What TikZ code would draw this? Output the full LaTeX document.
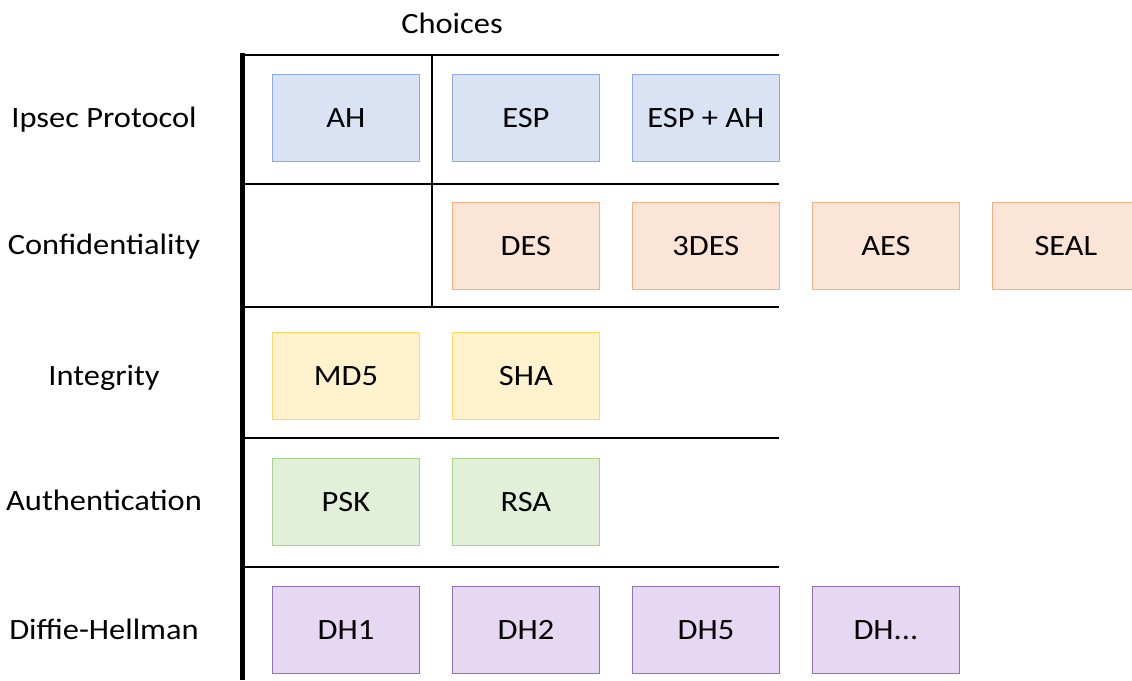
\documentclass[tikz,border=0pt]{standalone}
\usepackage{fontspec}
\setmainfont[FakeStretch=1.1]{Carlito}
\begin{document}
\begin{tikzpicture}[x=1pt,y=-1pt,
  txt/.style={font=\fontsize{29.5}{35}\selectfont, inner sep=0pt},
  rowlabel/.style={txt, anchor=base},
  choice/.style={txt, draw, line width=0.8pt, minimum width=147pt, minimum height=87pt,
                 text height=19pt, text depth=0pt, anchor=north west},
  ipsec/.style={choice, fill=ipfill, draw=ipdraw},
  conf/.style={choice, fill=cffill, draw=cfdraw},
  integ/.style={choice, fill=infill, draw=indraw},
  auth/.style={choice, fill=aufill, draw=audraw},
  dh/.style={choice, fill=dhfill, draw=dhdraw},
  grid/.style={line width=2.6pt, black},
  axis/.style={line width=5pt, black}]
\definecolor{ipfill}{HTML}{DAE3F3}\definecolor{ipdraw}{HTML}{8FAADC}
\definecolor{cffill}{HTML}{FBE5D6}\definecolor{cfdraw}{HTML}{F4B183}
\definecolor{infill}{HTML}{FFF2CC}\definecolor{indraw}{HTML}{FFD966}
\definecolor{aufill}{HTML}{E2F0D9}\definecolor{audraw}{HTML}{A9D18E}
\definecolor{dhfill}{HTML}{E6D8F2}\definecolor{dhdraw}{HTML}{9673B0}
\useasboundingbox (0,0) rectangle (1132,680);

% header
\node[rowlabel] (choices) at (452,33) {Choices};

% row labels
\node[rowlabel] (lipsec) at (104,127) {Ipsec Protocol};
\node[rowlabel] (lconf)  at (104,254.5) {Confidentiality};
\node[rowlabel] (linteg) at (104,385) {Integrity};
\node[rowlabel] (lauth)  at (104,510.5) {Authentication};
\node[rowlabel] (ldh)    at (104,639.5) {Diffie-Hellman};

% grid lines
\coordinate (gtop) at (242,53);
\coordinate (gbot) at (242,680);
\draw[axis] (gtop) -- (gbot);
\draw[grid] (432,55) -- (432,307);
\foreach \yy in {55,184,307,438,567}
  \draw[grid] (240,\yy) -- (779,\yy);

% choice boxes
\node[ipsec] (ah)    at (272,74) {AH};
\node[ipsec] (esp)   at (452,74) {ESP};
\node[ipsec] (espah) at (632,74) {ESP + AH};

\node[conf] (des)  at (452,202) {DES};
\node[conf] (tdes) at (632,202) {3DES};
\node[conf] (aes)  at (812,202) {AES};
\node[conf] (seal) at (992,202) {SEAL};

\node[integ] (md5) at (272,332) {MD5};
\node[integ] (sha) at (452,332) {SHA};

\node[auth] (psk) at (272,458) {PSK};
\node[auth] (rsa) at (452,458) {RSA};

\node[dh] (dh1) at (272,586) {DH1};
\node[dh] (dh2) at (452,586) {DH2};
\node[dh] (dh5) at (632,586) {DH5};
\node[dh] (dhx) at (812,586) {DH...};
\end{tikzpicture}
\end{document}
